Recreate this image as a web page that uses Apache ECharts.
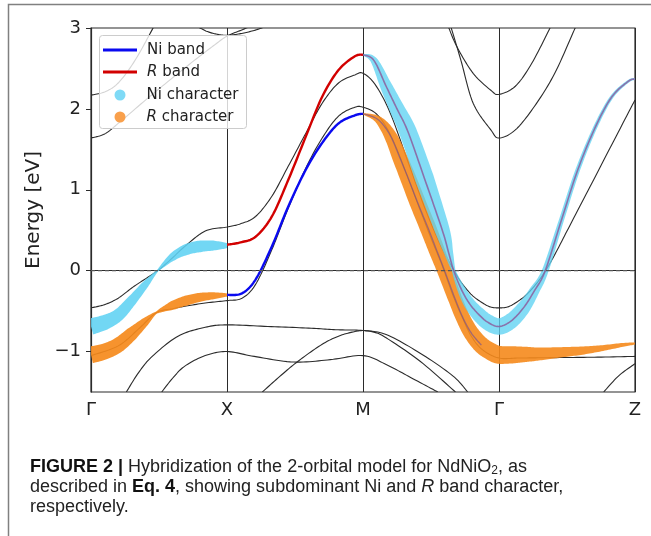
<!DOCTYPE html>
<html>
<head>
<meta charset="utf-8">
<script src="https://cdn.jsdelivr.net/npm/echarts@6/dist/echarts.min.js"></script>
<style>
  html, body { margin: 0; padding: 0; background: #fff; }
  #chart { width: 651px; height: 536px; }
</style>
</head>
<body>
<div id="chart"></div>
<script>
// k-path positions: Γ = 0, X = 1, M = 2, Γ = 3, Z = 4
const kLabels = ['Γ', 'X', 'M', 'Γ', 'Z'];
const energyTicks = [-1, 0, 1, 2, 3];
const fermiLevel = 0;

// DFT bands (black), [k, E]
const dftBandA = [
  [0, -0.46], [0.1, -0.42], [0.2, -0.34], [0.32, -0.19], [0.49, 0.0], [0.6, 0.16], [0.69, 0.30], [0.84, 0.49], [1, 0.54],
  [1.1, 0.58], [1.21, 0.67], [1.33, 0.92], [1.45, 1.29], [1.58, 1.70], [1.70, 2.07], [1.82, 2.32], [1.94, 2.42], [2, 2.44],
  [2.09, 2.30], [2.2, 1.95], [2.33, 1.35], [2.46, 0.75], [2.58, 0.28], [2.67, 0.0], [2.72, -0.14], [2.8, -0.30], [2.88, -0.40], [2.94, -0.45], [3, -0.46],
  [3.06, -0.45], [3.12, -0.40], [3.2, -0.30], [3.28, -0.15], [3.35, 0.02], [3.42, 0.23], [3.5, 0.49], [3.67, 1.04], [3.83, 1.56], [4, 2.11]
];
const dftBandB = [
  [0, -1.05], [0.2, -0.93], [0.35, -0.72], [0.48, -0.52], [0.6, -0.47], [0.69, -0.44], [0.84, -0.40], [1, -0.37],
  [1.11, -0.34], [1.21, -0.17], [1.33, 0.26], [1.45, 0.77], [1.58, 1.27], [1.70, 1.64], [1.82, 1.91], [1.94, 2.02], [2, 2.02],
  [2.09, 1.95], [2.17, 1.78], [2.25, 1.5], [2.33, 1.15], [2.42, 0.75], [2.5, 0.4], [2.58, 0.07], [2.66, -0.3], [2.73, -0.58], [2.8, -0.82], [2.88, -0.98], [3, -1.08],
  [3.15, -1.08], [3.4, -1.075], [3.7, -1.07], [4, -1.06]
];
const dftLow1 = [
  [0.26, -1.5], [0.35, -1.26], [0.45, -1.06], [0.64, -0.81], [0.84, -0.70], [1, -0.67],
  [1.3, -0.69], [1.6, -0.71], [1.8, -0.73], [2, -0.74],
  [2.17, -0.79], [2.42, -1.02], [2.66, -1.30], [2.77, -1.5]
];
const dftLow2 = [
  [1.26, -1.5], [1.4, -1.29], [1.53, -1.11], [1.70, -0.91], [1.82, -0.81], [1.92, -0.76], [2, -0.74],
  [2.08, -0.76], [2.17, -0.83], [2.42, -1.12], [2.68, -1.5]
];
const dftLow3 = [
  [0.52, -1.5], [0.6, -1.33], [0.69, -1.18], [0.84, -1.05], [1, -1.0],
  [1.2, -1.06], [1.49, -1.13], [1.76, -1.10], [2, -1.05],
  [2.17, -1.16], [2.35, -1.32], [2.55, -1.5]
];
const dftLow4 = [[3.77, -1.5], [3.88, -1.30], [4, -1.15]];
const dftUp1 = [[0, 1.64], [0.1, 1.69], [0.2, 1.82], [0.43, 2.15], [0.7, 2.52], [0.9, 2.78], [1, 2.9], [1.1, 2.97], [1.2, 3.04]];
const dftUp2 = [[0, 2.17], [0.1, 2.21], [0.2, 2.32], [0.32, 2.59], [0.45, 2.98], [0.47, 3.05]];
const dftUp3 = [[0.78, 3.02], [0.85, 2.96], [0.92, 2.925], [1, 2.91], [1.1, 2.93], [1.2, 2.97], [1.29, 3.02]];
const dftUp4 = [[2.62, 3.05], [2.69, 2.77], [2.81, 2.44], [2.94, 2.23], [3, 2.18], [3.12, 2.28], [3.24, 2.56], [3.375, 3.0], [3.39, 3.05]];
const dftUp5 = [[2.64, 3.05], [2.72, 2.6], [2.81, 2.07], [2.94, 1.74], [3, 1.64], [3.12, 1.74], [3.26, 2.03], [3.41, 2.44], [3.56, 3.0], [3.58, 3.05]];

// 2-orbital model bands, X -> M
const niBand = [[1, -0.30], [1.11, -0.28], [1.21, -0.11], [1.33, 0.30], [1.45, 0.79], [1.58, 1.25], [1.70, 1.58], [1.82, 1.82], [1.94, 1.92], [2, 1.94]];
const rBand = [[1, 0.32], [1.1, 0.35], [1.21, 0.42], [1.33, 0.67], [1.45, 1.12], [1.58, 1.66], [1.70, 2.15], [1.82, 2.48], [1.94, 2.65], [2, 2.67]];
// model bands where they sit under the character shading, M -> Γ -> Z
const niBandTail = [
  [2, 1.94], [2.09, 1.89], [2.15, 1.8], [2.21, 1.64], [2.27, 1.40], [2.333, 1.14], [2.40, 0.85], [2.48, 0.52], [2.54, 0.26], [2.60, 0.0],
  [2.68, -0.36], [2.74, -0.6], [2.8, -0.78], [2.87, -0.92]
];
const rBandTail = [
  [2, 2.67], [2.08, 2.6], [2.17, 2.28], [2.25, 2.0], [2.33, 1.72], [2.45, 1.15], [2.583, 0.5], [2.63, 0.22], [2.667, 0.0],
  [2.72, -0.22], [2.78, -0.4], [2.85, -0.54], [2.92, -0.64], [3, -0.69],
  [3.09, -0.62], [3.18, -0.46], [3.26, -0.25], [3.34, 0.0], [3.46, 0.63], [3.58, 1.25], [3.71, 1.78], [3.83, 2.15], [3.95, 2.34], [4, 2.37]
];

// band character, [k, E, weight]
const niCharacterGX = [
  [0, -0.69, 0.83], [0.1, -0.64, 0.75], [0.2, -0.55, 0.62], [0.3, -0.37, 0.5], [0.4, -0.17, 0.35], [0.49, 0.0, 0.08],
  [0.6, 0.17, 0.4], [0.7, 0.26, 0.55], [0.8, 0.30, 0.58], [0.9, 0.31, 0.5], [1, 0.31, 0.25]
];
const niCharacterMZ = [
  [2, 2.67, 0.05], [2.08, 2.6, 0.35], [2.17, 2.28, 0.6], [2.25, 2.0, 0.75], [2.33, 1.72, 0.88], [2.45, 1.15, 0.95], [2.583, 0.5, 0.75],
  [2.63, 0.22, 0.45], [2.667, 0.0, 0.18], [2.72, -0.22, 0.4], [2.78, -0.4, 0.58], [2.85, -0.54, 0.72], [2.92, -0.64, 0.8], [3, -0.69, 0.83],
  [3.09, -0.62, 0.78], [3.18, -0.46, 0.68], [3.26, -0.25, 0.5], [3.34, 0.0, 0.33], [3.46, 0.63, 0.25], [3.58, 1.25, 0.23],
  [3.71, 1.78, 0.2], [3.83, 2.15, 0.17], [3.95, 2.34, 0.13], [4, 2.37, 0.1]
];
const rCharacterGX = [
  [0, -1.04, 0.85], [0.1, -1.0, 0.8], [0.2, -0.92, 0.75], [0.3, -0.78, 0.65], [0.4, -0.63, 0.4], [0.48, -0.52, 0.1],
  [0.6, -0.43, 0.45], [0.7, -0.37, 0.5], [0.8, -0.33, 0.45], [0.9, -0.31, 0.35], [1, -0.30, 0.15]
];
const rCharacterMZ = [
  [2, 1.94, 0.05], [2.09, 1.89, 0.3], [2.15, 1.8, 0.5], [2.21, 1.64, 0.65], [2.27, 1.40, 0.75], [2.333, 1.14, 0.8], [2.40, 0.85, 0.82],
  [2.48, 0.52, 0.82], [2.54, 0.26, 0.8], [2.60, 0.0, 0.75], [2.68, -0.36, 0.7], [2.74, -0.6, 0.72], [2.8, -0.78, 0.78],
  [2.87, -0.92, 0.85], [2.94, -1.0, 0.88], [3, -1.04, 0.9],
  [3.1, -1.04, 0.86], [3.2, -1.035, 0.76], [3.3, -1.03, 0.64], [3.45, -1.01, 0.52], [3.6, -0.99, 0.42], [3.75, -0.96, 0.3], [3.9, -0.92, 0.2], [4, -0.90, 0.1]
];

const BLACK = '#2b2b2b';
const BLUE = '#0a0af0';
const RED = '#d20000';
const CYAN = '#5fd2f2';
const ORANGE = '#f58a1c';
const FONT = 'DejaVu Sans';
const BAND_HALF_WIDTH = 10;
const STEPS = 12;

const chart = echarts.init(document.getElementById('chart'));

function catmull(a, b, c, d, t) {
  const t2 = t * t, t3 = t2 * t;
  return 0.5 * (2 * b + (c - a) * t + (2 * a - 5 * b + 4 * c - d) * t2 + (3 * b - a - 3 * c + d) * t3);
}

// smooth pixel path through the points (Catmull-Rom), third value carried along linearly
function densify(px, extra) {
  const n = px.length, out = [];
  for (let i = 0; i < n - 1; i++) {
    const p0 = px[Math.max(i - 1, 0)], p1 = px[i], p2 = px[i + 1], p3 = px[Math.min(i + 2, n - 1)];
    for (let s = 0; s < STEPS; s++) {
      const t = s / STEPS;
      out.push([
        catmull(p0[0], p1[0], p2[0], p3[0], t),
        catmull(p0[1], p1[1], p2[1], p3[1], t),
        extra[i] + (extra[i + 1] - extra[i]) * t
      ]);
    }
  }
  out.push([px[n - 1][0], px[n - 1][1], extra[n - 1]]);
  return out;
}

function curve(data, color, width, z, name, opacity) {
  return {
    type: 'custom', name: name, data: data, clip: true, silent: true, z: z,
    encode: { x: 0, y: 1 },
    itemStyle: { color: color },
    renderItem: function (params, api) {
      if (params.dataIndex !== 0) return null;
      const px = data.map(p => api.coord(p));
      const pts = densify(px, data.map(() => 0)).map(d => [d[0], d[1]]);
      return {
        type: 'polyline',
        shape: { points: pts },
        style: { stroke: color, lineWidth: width, fill: null, opacity: opacity == null ? 1 : opacity }
      };
    }
  };
}

function characterBand(name, points, color, opacity) {
  return {
    type: 'custom', name: name, data: points, clip: true, silent: true, z: 4,
    dimensions: ['k', 'E', 'w'],
    encode: { x: 0, y: 1 },
    itemStyle: { color: color },
    renderItem: function (params, api) {
      if (params.dataIndex !== 0) return null;
      const px = points.map(p => api.coord([p[0], p[1]]));
      const dense = densify(px, points.map(p => p[2] * BAND_HALF_WIDTH));
      const upper = [], lower = [];
      dense.forEach((d, j) => {
        const a = dense[Math.max(j - 1, 0)], b = dense[Math.min(j + 1, dense.length - 1)];
        const tx = b[0] - a[0], ty = b[1] - a[1];
        const len = Math.hypot(tx, ty) || 1;
        const nx = -ty / len, ny = tx / len;
        upper.push([d[0] + nx * d[2], d[1] + ny * d[2]]);
        lower.push([d[0] - nx * d[2], d[1] - ny * d[2]]);
      });
      return {
        type: 'polygon',
        shape: { points: upper.concat(lower.reverse()) },
        style: { fill: color, opacity: opacity }
      };
    }
  };
}

const legendText = {
  fontFamily: FONT, fontSize: 15, color: '#222', lineHeight: 22,
  rich: { i: { fontFamily: FONT, fontSize: 15, fontStyle: 'italic', color: '#222', lineHeight: 22 } }
};
const legendFormatter = name => name.replace(/^R /, '{i|R} ');

const option = {
  animation: false,
  backgroundColor: '#fff',
  grid: { left: 91, right: 16, top: 28, bottom: 144, show: true, borderColor: BLACK, borderWidth: 1.2 },
  xAxis: {
    type: 'value', min: 0, max: 4, interval: 1,
    axisLine: { lineStyle: { color: BLACK, width: 1.2 } },
    axisTick: { length: 5, lineStyle: { color: BLACK } },
    axisLabel: { formatter: v => kLabels[Math.round(v)], fontFamily: FONT, fontSize: 18, color: '#222', margin: 9 },
    splitLine: { show: true, lineStyle: { color: BLACK, width: 1 } }
  },
  yAxis: {
    type: 'value', min: -1.5, max: 3,
    name: 'Energy [eV]', nameLocation: 'middle', nameGap: 45,
    nameTextStyle: { fontFamily: FONT, fontSize: 20, color: '#222' },
    axisLine: { show: true, lineStyle: { color: BLACK, width: 1.2 } },
    axisTick: { show: true, length: 5, customValues: energyTicks, lineStyle: { color: BLACK } },
    axisLabel: {
      customValues: energyTicks, margin: 10, fontFamily: FONT, fontSize: 18, color: '#222',
      formatter: v => (v < 0 ? '\u2212' + Math.abs(v) : String(v))
    },
    splitLine: { show: false }
  },
  legend: [
    {
      data: [
        { name: 'Ni band', itemStyle: { color: BLUE, borderWidth: 0 } },
        { name: 'R band', itemStyle: { color: RED, borderWidth: 0 } }
      ],
      orient: 'vertical', left: 103, top: 39, itemWidth: 34, itemHeight: 3, icon: 'rect',
      itemGap: 0, padding: 0, selectedMode: false, z: 11,
      formatter: legendFormatter,
      textStyle: Object.assign({ padding: [0, 0, 0, 5] }, legendText)
    },
    {
      data: [
        { name: 'Ni character', itemStyle: { color: '#7fdaf6', borderWidth: 0 } },
        { name: 'R character', itemStyle: { color: '#f9a04c', borderWidth: 0 } }
      ],
      orient: 'vertical', left: 114.5, top: 84, itemWidth: 11, itemHeight: 11, icon: 'circle',
      itemGap: 0, padding: 0, selectedMode: false, z: 11,
      formatter: legendFormatter,
      textStyle: Object.assign({ padding: [0, 0, 0, 16] }, legendText)
    }
  ],
  title: {
    left: 30, top: 457, padding: 0,
    text: '{b|FIGURE 2 |} Hybridization of the 2-orbital model for NdNiO{sub|2}, as\n' +
          'described in {b|Eq. 4}, showing subdominant Ni and {i|R} band character,\n' +
          'respectively.',
    textStyle: {
      fontFamily: 'Liberation Sans', fontSize: 18, fontWeight: 'normal', color: '#222', lineHeight: 20,
      rich: {
        b: { fontFamily: 'Liberation Sans', fontSize: 18, fontWeight: 'bold', color: '#111', lineHeight: 20 },
        i: { fontFamily: 'Liberation Sans', fontSize: 18, fontStyle: 'italic', color: '#222', lineHeight: 20 },
        sub: { fontFamily: 'Liberation Sans', fontSize: 12, color: '#222', lineHeight: 12, verticalAlign: 'bottom' }
      }
    }
  },
  graphic: [
    {
      type: 'polyline', z: 0, silent: true,
      shape: { points: [[8.5, 536], [8.5, 4.5], [651, 4.5]] },
      style: { stroke: '#808080', lineWidth: 1.5, fill: null }
    },
    {
      type: 'rect', left: 99, top: 35, z: 10, silent: true,
      shape: { width: 147, height: 93, r: 3 },
      style: { fill: 'rgba(255,255,255,0.8)', stroke: '#cccccc', lineWidth: 1 }
    }
  ],
  series: [
    curve(niBand, BLUE, 2.4, 3, 'Ni band'),
    curve(rBand, RED, 2.4, 3, 'R band'),
    curve(dftBandA, BLACK, 1.1, 2), curve(dftBandB, BLACK, 1.1, 2),
    curve(dftLow1, BLACK, 1.1, 2), curve(dftLow2, BLACK, 1.1, 2), curve(dftLow3, BLACK, 1.1, 2), curve(dftLow4, BLACK, 1.1, 2),
    curve(dftUp1, BLACK, 1.1, 2), curve(dftUp2, BLACK, 1.1, 2), curve(dftUp3, BLACK, 1.1, 2),
    curve(dftUp4, BLACK, 1.1, 2), curve(dftUp5, BLACK, 1.1, 2),
    characterBand('R character', rCharacterGX, ORANGE, 0.92),
    characterBand('R character', rCharacterMZ, ORANGE, 0.9),
    characterBand('Ni character', niCharacterGX, CYAN, 0.88),
    characterBand('Ni character', niCharacterMZ, CYAN, 0.78),
    curve(niBandTail, '#6a4a9a', 1.3, 5, null, 0.6),
    curve(rBandTail, '#8c5e9e', 1.6, 5, null, 0.85),
    {
      type: 'line', silent: true, z: 6, showSymbol: false, symbol: 'none',
      data: kLabels.map((_, i) => [i, fermiLevel]),
      lineStyle: { type: [4, 3], color: '#555', width: 1.3 }
    }
  ]
};

chart.setOption(option);
window.addEventListener('resize', () => chart.resize());
</script>
</body>
</html>
